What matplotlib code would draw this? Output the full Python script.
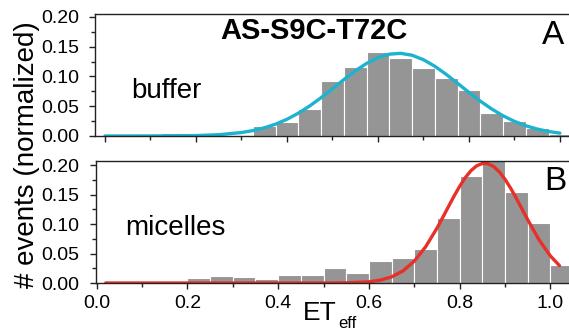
import matplotlib.pyplot as plt
from matplotlib.ticker import MultipleLocator

plt.rcParams['font.family'] = ['Liberation Sans', 'DejaVu Sans']

# buffer histogram (bin centres) and gaussian fit
buf_x = [0.00, 0.05, 0.10, 0.15, 0.20, 0.25, 0.30, 0.35, 0.40, 0.45, 0.50,
         0.55, 0.60, 0.65, 0.70, 0.75, 0.80, 0.85, 0.90, 0.95, 1.00]
buf_h = [0.002, 0.002, 0.002, 0.0045, 0.002, 0.002, 0.002, 0.0168, 0.0235, 0.0448, 0.0924,
         0.1165, 0.1412, 0.1317, 0.1137, 0.098, 0.0773, 0.0381, 0.0258, 0.0134, 0.003]
buf_fit_x = [0.0, 0.1, 0.2, 0.25, 0.3, 0.325, 0.35, 0.375, 0.4, 0.425, 0.45, 0.475, 0.5,
             0.525, 0.55, 0.575, 0.6, 0.625, 0.65, 0.675, 0.7, 0.725, 0.75, 0.775, 0.8,
             0.825, 0.85, 0.875, 0.9, 0.925, 0.95, 0.975, 1.0]
buf_fit_y = [0.0, 0.0001, 0.0007, 0.0022, 0.0058, 0.0091, 0.0137, 0.0199, 0.0281, 0.0383,
             0.0505, 0.0644, 0.0794, 0.0947, 0.1093, 0.1220, 0.1317, 0.1375, 0.1389, 0.1357,
             0.1282, 0.1172, 0.1036, 0.0886, 0.0733, 0.0586, 0.0454, 0.0340, 0.0246, 0.0172,
             0.0117, 0.0076, 0.0048]

# micelles histogram (left bin edges) and gaussian fit
mic_x = [0.00, 0.05, 0.10, 0.15, 0.20, 0.25, 0.30, 0.35, 0.40, 0.45, 0.50,
         0.55, 0.60, 0.65, 0.70, 0.75, 0.80, 0.85, 0.90, 0.95, 1.00]
mic_h = [0.001, 0.001, 0.001, 0.001, 0.0079, 0.0119, 0.0102, 0.0073, 0.0141, 0.0136, 0.0249,
         0.0164, 0.0373, 0.0418, 0.0576, 0.110, 0.181, 0.215, 0.155, 0.102, 0.0305]
mic_fit_x = [0.02, 0.1, 0.2, 0.3, 0.4, 0.5, 0.55, 0.6, 0.625, 0.65, 0.675, 0.7, 0.725,
             0.75, 0.7625, 0.775, 0.7875, 0.8, 0.8125, 0.825, 0.8375, 0.85, 0.8625, 0.875,
             0.8875, 0.9, 0.9125, 0.925, 0.9375, 0.95, 0.975, 1.0, 1.02]
mic_fit_y = [0.0, 0.0, 0.0, 0.0, 0.0, 0.0, 0.0003, 0.002, 0.0048, 0.0103, 0.0204, 0.037,
             0.0613, 0.0929, 0.1107, 0.129, 0.147, 0.1638, 0.1786, 0.1905, 0.1986, 0.2026,
             0.2022, 0.1973, 0.1884, 0.1758, 0.1606, 0.1435, 0.1253, 0.1071, 0.0732, 0.0458,
             0.0295]

fig = plt.figure(figsize=(5.69, 3.3), dpi=100)
ax1 = fig.add_axes([95/569, 1-136/330, 1-95/569, 122/330])
ax2 = fig.add_axes([95.7/569, 1-283/330, 1-95.7/569, 122/330])

bar_col = '#959595'
ax1.bar(buf_x, buf_h, width=0.05, align='center', color=bar_col, edgecolor='white', linewidth=0.8)
ax1.plot(buf_fit_x, buf_fit_y, color='#1db3cf', lw=2.4, solid_capstyle='round')
ax2.bar(mic_x, mic_h, width=0.05, align='edge', color=bar_col, edgecolor='white', linewidth=0.8)
ax2.plot(mic_fit_x, mic_fit_y, color='#e8302a', lw=2.4, solid_capstyle='round')

ax1.set_xlim(-0.022, 1.02)
ax1.set_ylim(0, 0.205)
ax2.set_xlim(-0.002, 1.041)
ax2.set_ylim(0, 0.2068)

for ax in (ax1, ax2):
    ax.spines['right'].set_visible(False)
    for s in ('left', 'bottom', 'top'):
        ax.spines[s].set_linewidth(1.0)
        ax.spines[s].set_color('#222222')
    ax.xaxis.set_major_locator(MultipleLocator(0.2))
    ax.xaxis.set_minor_locator(MultipleLocator(0.1))
    ax.yaxis.set_major_locator(MultipleLocator(0.05))
    ax.yaxis.set_minor_locator(MultipleLocator(0.025))
    ax.tick_params(which='major', direction='out', length=4.5, width=1, labelsize=14, color='#222222')
    ax.tick_params(which='minor', direction='out', length=3, width=1, color='#222222')
    ax.tick_params(axis='y', pad=7)
    ax.tick_params(axis='x', pad=4)
    ax.set_yticks([0.0, 0.05, 0.10, 0.15, 0.20])
    ax.set_yticklabels(['0.00', '0.05', '0.10', '0.15', '0.20'])

ax1.tick_params(axis='x', labelbottom=False)
ax2.set_xticks([0.0, 0.2, 0.4, 0.6, 0.8, 1.0])
ax2.set_xticklabels(['0.0', '0.2', '0.4', '0.6', '0.8', '1.0'])

ax1.text(0.459, 0.176, 'AS-S9C-T72C', fontsize=21, fontweight='bold', ha='center', va='center')
ax1.text(0.136, 0.075, 'buffer', fontsize=20, ha='center', va='center')
ax1.text(0.985, 0.169, 'A', fontsize=24, ha='center', va='center')
ax2.text(0.174, 0.094, 'micelles', fontsize=20, ha='center', va='center')
ax2.text(1.011, 0.172, 'B', fontsize=24, ha='center', va='center')

fig.text(303/569, 1-320/330, 'ET', fontsize=19, ha='left', va='baseline')
fig.text(338/569, 1-328/330, 'eff', fontsize=12, ha='left', va='baseline')
fig.text(27/569, 1-155/330, '# events (normalized)', fontsize=20, rotation=90, ha='center', va='center')

fig.savefig('out.png', dpi=100)
